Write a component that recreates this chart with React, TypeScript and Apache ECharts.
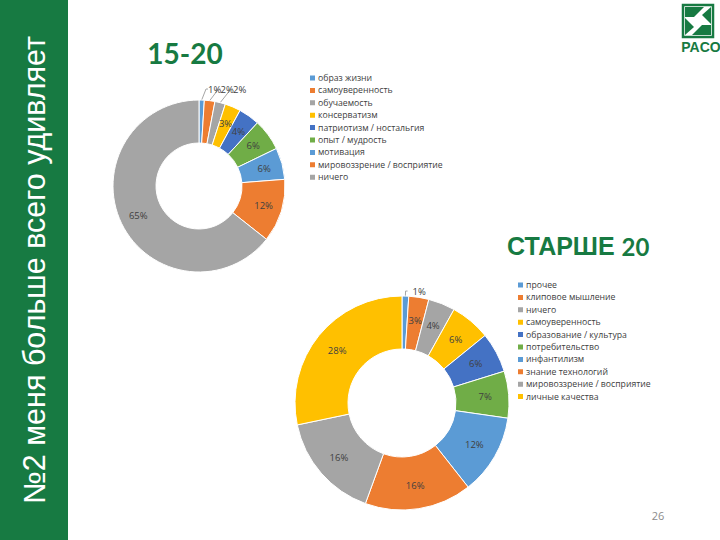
import React, { useEffect, useRef } from 'react';
import * as echarts from 'echarts';

const youngCategories = ['образ жизни', 'самоуверенность', 'обучаемость', 'консерватизм', 'патриотизм / ностальгия', 'опыт / мудрость', 'мотивация', 'мировоззрение / восприятие', 'ничего'];
const youngValues = [1, 2, 2, 3, 4, 6, 6, 12, 65];
const olderCategories = ['прочее', 'клиповое мышление', 'ничего', 'самоуверенность', 'образование / культура', 'потребительство', 'инфантилизм', 'знание технологий', 'мировоззрение / восприятие', 'личные качества'];
const olderValues = [1, 3, 4, 6, 6, 7, 12, 16, 16, 28];
const palette = ['#5B9BD5', '#ED7D31', '#A5A5A5', '#FFC000', '#4472C4', '#70AD47'];

const GREEN = '#177a42';
const older = (n: string) => n + ' ';

export default function App() {
  const ref = useRef<HTMLDivElement>(null);
  useEffect(() => {
    if (!ref.current) return;
    const chart = echarts.init(ref.current, null, { renderer: 'svg' });
    const labelBase = { color: '#404040', fontSize: 9.5, fontFamily: 'Open Sans', formatter: '{c}%' };
    const outside = {
      label: { position: 'outside', ...labelBase },
      labelLine: { show: true, length: 5, length2: 2, lineStyle: { color: '#a6a6a6', width: 1 } },
    };
    const youngData = youngCategories.map((n, i) => ({
      name: n,
      value: youngValues[i],
      itemStyle: { color: palette[i % palette.length] },
      ...(i < 3 ? outside : {}),
    }));
    const olderData = olderCategories.map((n, i) => ({
      name: older(n),
      value: olderValues[i],
      itemStyle: { color: palette[i % palette.length] },
      ...(i < 1 ? outside : {}),
    }));
    const legendBase = {
      orient: 'vertical',
      padding: 0,
      itemWidth: 7,
      itemHeight: 7,
      itemGap: 0.4,
      icon: 'rect',
      formatter: (n: string) => n.trim(),
      textStyle: { fontSize: 8.7, lineHeight: 12, color: '#404040', fontFamily: 'Open Sans', padding: [0, 0, 0, -3] },
    };
    chart.setOption({
      animation: false,
      backgroundColor: '#ffffff',
      legend: [
        { ...legendBase, left: 308, top: 72, data: youngCategories },
        { ...legendBase, left: 516, top: 279, data: olderCategories.map(older) },
      ],
      series: [
        {
          type: 'pie',
          center: [199, 186],
          radius: [43, 86],
          startAngle: 90,
          clockwise: true,
          avoidLabelOverlap: false,
          label: { position: 'inside', ...labelBase },
          itemStyle: { borderColor: '#fff', borderWidth: 1 },
          labelLayout: (p: any) =>
            p.dataIndex < 3 ? { x: 208 + p.dataIndex * 12.5, y: 89, align: 'left', verticalAlign: 'middle' } : {},
          data: youngData,
        },
        {
          type: 'pie',
          center: [402, 403],
          radius: [54, 107],
          startAngle: 90,
          clockwise: true,
          avoidLabelOverlap: false,
          label: { position: 'inside', ...labelBase },
          itemStyle: { borderColor: '#fff', borderWidth: 1 },
          data: olderData,
        },
      ],
      graphic: [
        { type: 'rect', shape: { x: 0, y: 0, width: 68, height: 540 }, style: { fill: GREEN } },
        {
          type: 'text',
          x: 34,
          y: 270,
          rotation: Math.PI / 2,
          style: {
            text: '№2 меня больше всего удивляет',
            fill: '#ffffff',
            font: '30.5px "Liberation Sans", Arial, sans-serif',
            align: 'center',
            verticalAlign: 'middle',
          },
        },
        {
          type: 'text',
          x: 185,
          y: 53,
          style: { text: '15-20', fill: GREEN, font: 'bold 28px Lato, sans-serif', align: 'center', verticalAlign: 'middle' },
        },
        {
          type: 'text',
          x: 507,
          y: 246,
          style: {
            text: '{a|СТАРШЕ }{b|20}',
            align: 'left',
            verticalAlign: 'middle',
            rich: {
              a: { fill: GREEN, font: 'bold 25px "Liberation Sans", Arial, sans-serif' },
              b: { fill: GREEN, font: 'bold 24px Lato, sans-serif' },
            },
          },
        },
        { type: 'rect', shape: { x: 683, y: 5, width: 30, height: 32 }, style: { fill: '#ffffff', stroke: GREEN, lineWidth: 2.5 } },
        { type: 'polygon', shape: { points: [[685, 7], [704, 7], [694, 17], [685, 17]] }, style: { fill: GREEN } },
        { type: 'polygon', shape: { points: [[711, 7], [711, 24], [702, 15]] }, style: { fill: GREEN } },
        { type: 'polygon', shape: { points: [[711, 35], [692, 35], [702, 25], [711, 25]] }, style: { fill: GREEN } },
        { type: 'polygon', shape: { points: [[685, 35], [685, 18], [694, 27]] }, style: { fill: GREEN } },
        {
          type: 'text',
          x: 701,
          y: 47,
          style: { text: 'PACO', fill: GREEN, font: 'bold 14px "Liberation Sans", Arial, sans-serif', align: 'center', verticalAlign: 'middle' },
        },
        {
          type: 'text',
          x: 658,
          y: 515,
          style: { text: '26', fill: '#8c8c8c', font: '11px "Open Sans", sans-serif', align: 'center', verticalAlign: 'middle' },
        },
      ],
    });
    return () => chart.dispose();
  }, []);
  return <div ref={ref} style={{ position: 'fixed', left: 0, top: 0, width: 720, height: 540 }} />;
}
